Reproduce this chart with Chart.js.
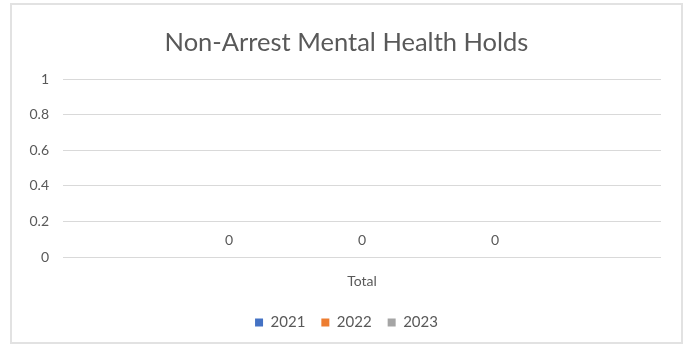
<!DOCTYPE html>
<html>
<head>
<meta charset="utf-8">
<script src="https://cdn.jsdelivr.net/npm/chart.js@4/dist/chart.umd.min.js"></script>
<style>
  html, body { margin: 0; padding: 0; background: #fff; }
  #box {
    position: absolute; left: 10px; top: 3px;
    width: 669px; height: 337px;
    border: 2px solid #e2e2e2;
  }
</style>
</head>
<body>
<div id="box"><canvas id="holdsChart"></canvas></div>
<script>
const categories = ["Total"];
const years = ["2021", "2022", "2023"];
const values2021 = [0];
const values2022 = [0];
const values2023 = [0];
const yTicks = [0, 0.2, 0.4, 0.6, 0.8, 1];

const textColor = '#595959';
const fontFamily = 'Lato, "Open Sans", sans-serif';

// writes each bar's value just above it
const valueLabels = {
    id: 'valueLabels',
    afterDatasetsDraw(chart) {
        const ctx = chart.ctx;
        ctx.save();
        ctx.font = '14px ' + fontFamily;
        ctx.fillStyle = textColor;
        ctx.textAlign = 'center';
        ctx.textBaseline = 'bottom';
        chart.data.datasets.forEach((ds, i) => {
            chart.getDatasetMeta(i).data.forEach((bar, j) => {
                ctx.fillText(String(ds.data[j]), bar.x, bar.y - 10);
            });
        });
        ctx.restore();
    }
};

let holdsData = {
    labels: categories,
    datasets: [
        { label: years[0], data: values2021, backgroundColor: '#4472C4' },
        { label: years[1], data: values2022, backgroundColor: '#ED7D31' },
        { label: years[2], data: values2023, backgroundColor: '#A5A5A5' }
    ]
};

let holdsOptions = {
    responsive: true,
    maintainAspectRatio: false,
    animation: false,
    layout: { padding: { left: 0, right: 0, top: 0, bottom: 2 } },
    datasets: { bar: { categoryPercentage: 0.667, barPercentage: 0.6, borderWidth: 0 } },
    scales: {
        x: {
            afterFit: axis => { axis.height = 42; },
            grid: { display: false },
            border: { display: false },
            ticks: { color: textColor, font: { family: fontFamily, size: 14 }, padding: 8 }
        },
        y: {
            min: 0,
            max: 1,
            afterBuildTicks: axis => { axis.ticks = yTicks.map(v => ({ value: v })); },
            afterFit: axis => { axis.width = 51; },
            grid: { color: '#d9d9d9', drawTicks: false },
            border: { display: false },
            ticks: {
                color: textColor,
                font: { family: fontFamily, size: 14 },
                padding: 14,
                callback: v => String(v)
            }
        },
        // empty axis that keeps a margin on the right of the plot
        yRight: {
            position: 'right',
            afterFit: axis => { axis.width = 20; },
            grid: { display: false },
            border: { display: false },
            ticks: { display: false }
        }
    },
    plugins: {
        title: {
            display: true,
            text: 'Non-Arrest Mental Health Holds',
            color: textColor,
            font: { family: fontFamily, size: 25.5, weight: 'normal' },
            padding: { top: 22, bottom: 21.4 }
        },
        legend: {
            position: 'bottom',
            labels: {
                color: textColor,
                font: { family: fontFamily, size: 15 },
                boxWidth: 8,
                boxHeight: 8,
                padding: 16
            }
        },
        tooltip: { enabled: false }
    }
};

let holdsChart = new Chart(document.getElementById('holdsChart'), {
    type: 'bar',
    data: holdsData,
    options: holdsOptions,
    plugins: [valueLabels]
});
</script>
</body>
</html>
